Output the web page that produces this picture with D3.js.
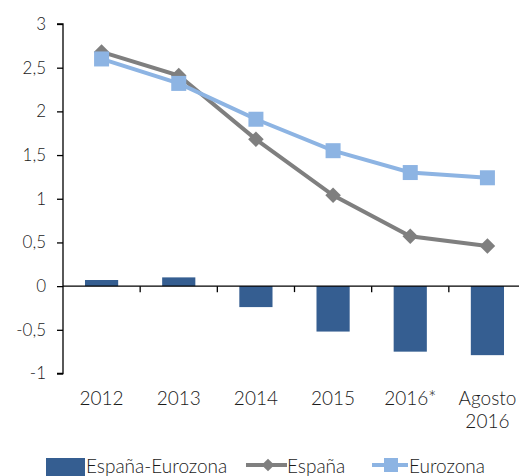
<!DOCTYPE html>
<html>
<head>
<meta charset="utf-8">
<script src="https://cdn.jsdelivr.net/npm/d3@7"></script>
<style>
  html, body { margin: 0; padding: 0; background: #fff; overflow: hidden; }
  svg { display: block; }
  text { font-family: Lato, "Open Sans", sans-serif; font-weight: 300; fill: #1a1a1a; }
</style>
</head>
<body>
<svg id="chart" width="519" height="476"></svg>
<script>
// Categories (second line of the last label is split on "|")
const categories = ["2012", "2013", "2014", "2015", "2016*", "Agosto|2016"];
// Difference España minus Eurozona (bars)
const diferencia = [0.07, 0.10, -0.24, -0.52, -0.75, -0.79];
// España series
const espana = [2.68, 2.41, 1.68, 1.04, 0.57, 0.46];
// Eurozona series
const eurozona = [2.60, 2.32, 1.91, 1.55, 1.30, 1.24];
// Y axis ticks
const yTicks = [-1, -0.5, 0, 0.5, 1, 1.5, 2, 2.5, 3];

const svg = d3.select("#chart");
const plotL = 63, plotR = 526, plotT = 24, plotB = 373.5;

const x = d3.scaleBand().domain(categories).range([plotL, plotR]).paddingInner(0.57).paddingOuter(0.285);
const xPos = d3.scaleBand().domain(categories).range([plotL, plotR]);
const y = d3.scaleLinear().domain([-1, 3]).range([plotB, plotT]);

const fmt = v => String(v).replace(".", ",");

// Y axis
const yAxis = svg.append("g")
  .attr("transform", `translate(${plotL},0)`)
  .call(d3.axisLeft(y).tickValues(yTicks).tickFormat(fmt).tickSize(6).tickPadding(11));
yAxis.select(".domain").attr("stroke", "#000").attr("stroke-width", 1.3).attr("d", `M-6,${plotT}H0V${plotB}H-6`);
yAxis.selectAll(".tick line").attr("stroke", "#000").attr("stroke-width", 1.3);
yAxis.selectAll(".tick text").style("font-size", "17px").attr("fill", "#1a1a1a");

// Bars
svg.append("g").selectAll("rect").data(diferencia).join("rect")
  .attr("x", (d, i) => x(categories[i]))
  .attr("width", x.bandwidth())
  .attr("y", d => y(Math.max(0, d)))
  .attr("height", d => Math.abs(y(d) - y(0)))
  .attr("fill", "#355e91");

// Zero axis with category ticks below
const xAxis = svg.append("g")
  .attr("transform", `translate(0,${y(0)})`);
xAxis.append("line").attr("x1", plotL).attr("x2", plotR).attr("stroke", "#000").attr("stroke-width", 1.3);
xAxis.selectAll("line.tk").data(categories.slice(1)).join("line")
  .attr("class", "tk")
  .attr("x1", d => xPos(d)).attr("x2", d => xPos(d))
  .attr("y1", 0).attr("y2", 6)
  .attr("stroke", "#000").attr("stroke-width", 1.3);

// Category labels
const lbl = svg.append("g").selectAll("text").data(categories).join("text")
  .attr("text-anchor", "middle")
  .style("font-size", "19px");
lbl.each(function(d) {
  const parts = d.split("|");
  const cxl = xPos(d) + xPos.bandwidth() / 2;
  parts.forEach((p, k) => {
    d3.select(this).append("tspan").attr("x", cxl).attr("y", 405 + k * 23).text(p);
  });
});

// Lines
const cx = i => xPos(categories[i]) + xPos.bandwidth() / 2;
const line = d3.line().x((d, i) => cx(i)).y(d => y(d));

svg.append("path").datum(espana).attr("d", line)
  .attr("fill", "none").attr("stroke", "#7f7f7f").attr("stroke-width", 4);
svg.append("path").datum(eurozona).attr("d", line)
  .attr("fill", "none").attr("stroke", "#8db4e3").attr("stroke-width", 4);

svg.append("g").selectAll("rect").data(espana).join("rect")
  .attr("x", -5.5).attr("y", -5.5).attr("width", 11).attr("height", 11)
  .attr("transform", (d, i) => `translate(${cx(i)},${y(d)}) rotate(45)`)
  .attr("fill", "#7f7f7f");
svg.append("g").selectAll("rect").data(eurozona).join("rect")
  .attr("x", (d, i) => cx(i) - 7.5).attr("y", d => y(d) - 7.5)
  .attr("width", 15).attr("height", 15)
  .attr("fill", "#8db4e3");

// Legend
const lg = svg.append("g").style("font-size", "19px");
lg.append("rect").attr("x", 46).attr("y", 458).attr("width", 39).attr("height", 18).attr("fill", "#355e91");
lg.append("text").attr("x", 86).attr("y", 473).text("España-Eurozona");

lg.append("line").attr("x1", 246).attr("x2", 287).attr("y1", 465).attr("y2", 465)
  .attr("stroke", "#7f7f7f").attr("stroke-width", 4);
lg.append("rect").attr("x", -4.5).attr("y", -4.5).attr("width", 9).attr("height", 9)
  .attr("transform", "translate(268,465) rotate(45)").attr("fill", "#7f7f7f");
lg.append("text").attr("x", 287).attr("y", 473).text("España");

lg.append("line").attr("x1", 372).attr("x2", 408).attr("y1", 465).attr("y2", 465)
  .attr("stroke", "#8db4e3").attr("stroke-width", 4);
lg.append("rect").attr("x", 384).attr("y", 458).attr("width", 14).attr("height", 14).attr("fill", "#8db4e3");
lg.append("text").attr("x", 409).attr("y", 473).text("Eurozona");
</script>
</body>
</html>
